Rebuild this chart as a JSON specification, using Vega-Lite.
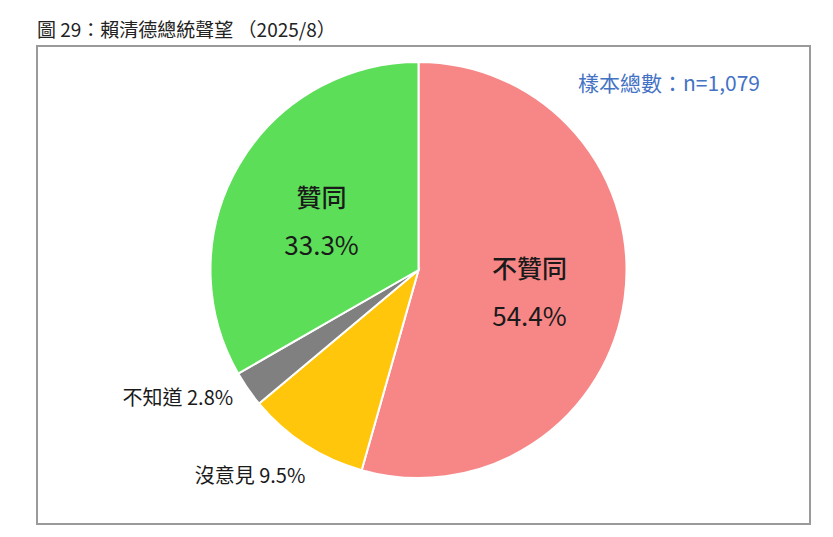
{
  "$schema": "https://vega.github.io/schema/vega-lite/v6.json",
  "width": 773,
  "height": 478,
  "autosize": {"type": "none"},
  "padding": {"left": 37, "top": 46, "right": 23, "bottom": 13},
  "background": "white",
  "title": {
    "text": "圖 29：賴清德總統聲望 （2025/8）",
    "anchor": "start",
    "font": "Noto Sans CJK TC",
    "fontSize": 19,
    "fontWeight": "normal",
    "color": "#222222",
    "offset": 5
  },
  "config": {
    "view": {"stroke": "#9a9a9a", "strokeWidth": 2},
    "text": {"font": "Noto Sans CJK TC"}
  },
  "data": {
    "values": [
      {"category": "不贊同", "value": 54.4, "rank": 1, "name": "不贊同", "pct": "54.4%", "outerA": "", "outerB": ""},
      {"category": "沒意見", "value": 9.5, "rank": 2, "name": "", "pct": "", "outerA": "", "outerB": "沒意見 9.5%"},
      {"category": "不知道", "value": 2.8, "rank": 3, "name": "", "pct": "", "outerA": "不知道 2.8%", "outerB": ""},
      {"category": "贊同", "value": 33.3, "rank": 4, "name": "贊同", "pct": "33.3%", "outerA": "", "outerB": ""}
    ]
  },
  "encoding": {
    "theta": {"field": "value", "type": "quantitative", "stack": true},
    "order": {"field": "rank", "type": "quantitative"}
  },
  "layer": [
    {
      "mark": {"type": "arc", "outerRadius": 208, "stroke": "white", "strokeWidth": 2, "x": {"expr": "width/2 - 5"}, "y": {"expr": "height/2 - 15"}},
      "encoding": {
        "color": {
          "field": "category",
          "type": "nominal",
          "scale": {"domain": ["不贊同", "沒意見", "不知道", "贊同"], "range": ["#F78787", "#FFC60B", "#808080", "#5CDE58"]},
          "legend": null
        }
      }
    },
    {
      "mark": {"type": "text", "radius": 112, "dy": -15, "fontSize": 25, "fontWeight": 500, "color": "#1a1a1a", "x": {"expr": "width/2 - 5"}, "y": {"expr": "height/2 - 15"}},
      "encoding": {"text": {"field": "name"}}
    },
    {
      "mark": {"type": "text", "radius": 112, "dy": 33, "fontSize": 26, "color": "#1a1a1a", "x": {"expr": "width/2 - 5"}, "y": {"expr": "height/2 - 15"}},
      "encoding": {"text": {"field": "pct"}}
    },
    {
      "mark": {"type": "text", "radius": 226, "align": "right", "fontSize": 20, "color": "#1a1a1a", "x": {"expr": "width/2 - 5"}, "y": {"expr": "height/2 - 15"}},
      "encoding": {"text": {"field": "outerA"}}
    },
    {
      "mark": {"type": "text", "radius": 208, "align": "right", "dy": 32, "fontSize": 20, "color": "#1a1a1a", "x": {"expr": "width/2 - 5"}, "y": {"expr": "height/2 - 15"}},
      "encoding": {"text": {"field": "outerB"}}
    },
    {
      "data": {"values": [{"note": "樣本總數：n=1,079"}]},
      "mark": {"type": "text", "align": "right", "baseline": "middle", "fontSize": 21, "color": "#4472C4", "dx": -50, "dy": 39},
      "encoding": {
        "theta": null,
        "order": null,
        "x": {"value": "width"},
        "y": {"value": 0},
        "text": {"field": "note"}
      }
    }
  ]
}
